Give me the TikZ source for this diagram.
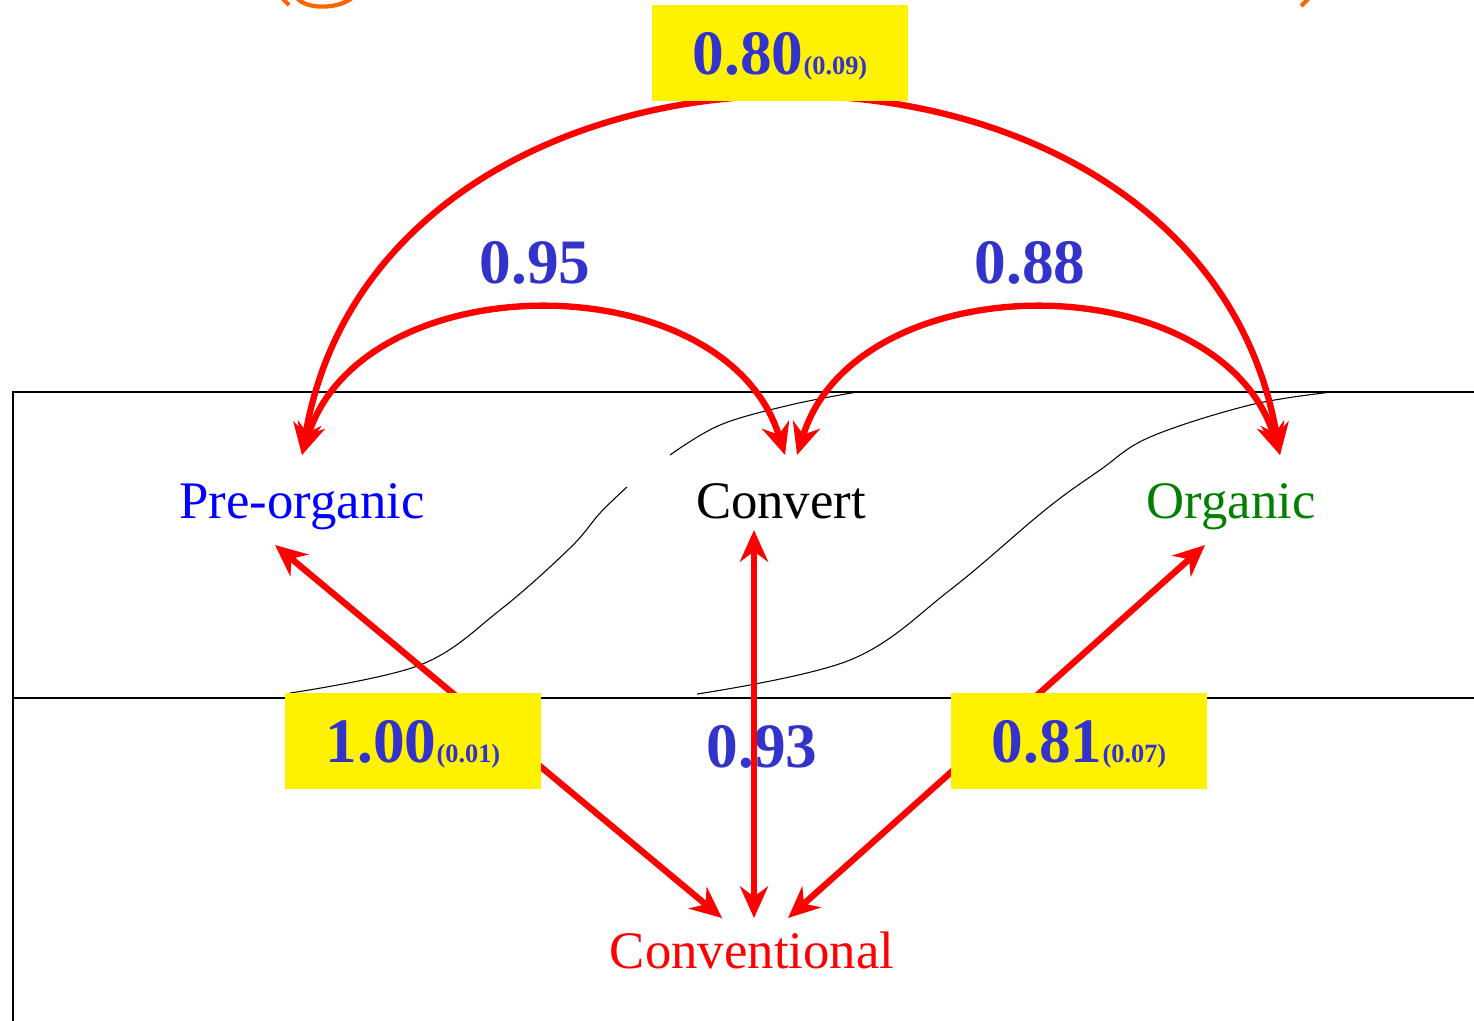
\documentclass[tikz,border=0pt]{standalone}
\usepackage{fontspec}
\setmainfont{Liberation Serif}
\usepackage{xcolor}
\usepackage{tikz}
\usetikzlibrary{arrows.meta,calc}

\definecolor{wtblue}{RGB}{51,51,204}
\definecolor{orggreen}{RGB}{0,128,0}
\definecolor{hdorange}{RGB}{255,102,0}
\newcommand{\errval}[1]{{\fontsize{7.5}{9}\selectfont(#1)}}

\begin{document}
\begin{tikzpicture}[x=0.01cm, y=-0.01cm,
    state/.style={font=\fontsize{15}{18}\selectfont, anchor=base, inner sep=0pt},
    wt/.style={font=\bfseries\fontsize{18}{21}\selectfont, text=wtblue, inner sep=0pt},
    hilite/.style={wt, fill=yellow, minimum width=72.8pt, minimum height=27.3pt, text height=12.2pt, text depth=0pt},
    link/.style={red, line width=1.8pt, {Stealth[length=9pt,width=8pt]}-{Stealth[length=9pt,width=8pt]}}]
    \clip (0,0) rectangle (1474,1020);

    % Okvir i krivulje
    \draw[line width=0.45pt] (1480,392) -- (13,392) -- (13,1030);
    \draw[line width=0.45pt] (13,698) -- (1480,698);
    \draw[line width=0.3pt] plot[smooth, tension=0.6] coordinates {(290,693) (420,665) (500,610) (570,548) (600,513) (627,487)};
    \draw[line width=0.3pt] plot[smooth, tension=0.6] coordinates {(670,455) (720,425) (790,405) (857,392)};
    \draw[line width=0.3pt] plot[smooth, tension=0.6] coordinates {(697,694) (850,660) (950,590) (1045,510) (1100,470) (1150,437) (1250,405) (1332,392)};

    % Naslov (odrezan)
    \draw[hdorange, line width=1.2pt] (282,-2) -- (289,5);
    \draw[hdorange, line width=1.2pt] (297,-2) .. controls (307,10) and (338,9) .. (352,-2);
    \draw[hdorange, line width=1.2pt] (1301,6) -- (1308,-1);

    % Stanja
    \node[state, text=blue] (pre) at (302,518) {Pre-organic};
    \node[state] (conv) at (781,518) {Convert};
    \node[state, text=orggreen] (org) at (1231,518) {Organic};
    \node[state, text=red] (cvn) at (752,968) {Conventional};

    % Tezine
    \node[wt, anchor=base] (w95) at (535,283) {0.95};
    \node[wt, anchor=base] (w88) at (1030,283) {0.88};
    \node[wt, anchor=base] (w93) at (762,767) {0.93};

    % Prijelazi
    \draw[link] ($(pre.base)+(0,-63)$) .. controls +(80,-473) and +(-80,-473) .. ($(org.base)+(49,-63)$);
    \draw[link] ($(pre.base)+(0,-63)$) .. controls +(60,-193) and +(-60,-193) .. ($(conv.base)+(4,-63)$);
    \draw[link] ($(conv.base)+(16,-63)$) .. controls +(60,-193) and +(-60,-193) .. ($(org.base)+(49,-63)$);
    \draw[link] ($(pre.base)+(-27,27)$) -- ($(cvn.base)+(-30,-50)$);
    \draw[link] ($(conv.base)+(-27,12)$) -- ($(cvn.base)+(2,-50)$);
    \draw[link] ($(org.base)+(-26,27)$) -- ($(cvn.base)+(36,-50)$);

    % Oznake s pogreskom
    \node[hilite] (b80) at (780,53) {0.80\errval{0.09}};
    \node[hilite] (b100) at (413,741) {1.00\errval{0.01}};
    \node[hilite] (b81) at (1079,741) {0.81\errval{0.07}};
\end{tikzpicture}
\end{document}
